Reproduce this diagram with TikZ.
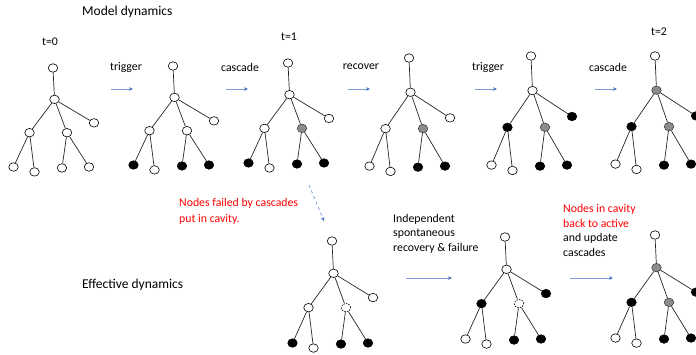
\documentclass[tikz,border=0pt]{standalone}
\usepackage{fontspec}
\setmainfont{Carlito}
\usetikzlibrary{arrows.meta,shapes.geometric}
\definecolor{arrline}{HTML}{7C9DDA}
\definecolor{arrtip}{HTML}{4472C4}
\definecolor{nodegray}{HTML}{8C8C8C}
\definecolor{redtext}{HTML}{FF0000}
\newcommand\mytree[9]{%
  \node[nd] (#1r) at (0,0) {};
  \node[nd,#2] (#1m) at (1.5,32) {};
  \node[nd,#3] (#1rl) at (41,56) {};
  \node[nd,#4] (#1lc) at (-23.5,66) {};
  \node[nd,#5] (#1rc) at (14,66) {};
  \node[nd,#6] (#1a) at (-39.5,101) {};
  \node[nd,#7] (#1b) at (-18.5,106) {};
  \node[nd,#8] (#1c) at (9,102) {};
  \node[nd,#9] (#1d) at (36,101) {};
  \draw[edge] (#1r)--(#1m) (#1m)--(#1rl) (#1m)--(#1lc) (#1m)--(#1rc)
    (#1lc)--(#1a) (#1lc)--(#1b) (#1rc)--(#1c) (#1rc)--(#1d);
}
\begin{document}
\begin{tikzpicture}[x=1pt,y=-1pt,
  nd/.style={ellipse,draw=black,fill=white,line width=0.6pt,minimum width=9.5pt,minimum height=8.5pt,inner sep=0pt},
  wnode/.style={},
  bnode/.style={fill=black},
  gnode/.style={fill=nodegray,draw=black!75},
  cnode/.style={fill=white,dash pattern=on 1.6pt off 1.1pt},
  edge/.style={draw=black!85,line width=0.7pt},
  arr/.style={draw=arrline,line width=0.8pt,-{Stealth[length=4pt,width=3.6pt,color=arrtip]}},
  title/.style={font=\fontsize{13.5}{16}\selectfont,inner sep=0pt},
  lab/.style={font=\fontsize{11.8}{14.5}\selectfont,inner sep=0pt},
]
\useasboundingbox (0,0) rectangle (696,354);
\clip (0,0) rectangle (696,354);

% titles
\node[title,anchor=west] (tmodel) at (82,12) {Model dynamics};
\node[title,anchor=west] (teff) at (82,285) {Effective dynamics};

% time labels
\node[lab] (t0) at (50,42) {t=0};
\node[lab] (t1) at (289,37) {t=1};
\node[lab] (t2) at (659,32) {t=2};

% step labels
\node[lab] (l1) at (126,67) {trigger};
\node[lab] (l2) at (240,67) {cascade};
\node[lab] (l3) at (361,67) {recover};
\node[lab] (l4) at (488,67) {trigger};
\node[lab] (l5) at (608,67) {cascade};

% top arrows
\coordinate (a1s) at (111,89); \coordinate (a1e) at (133,89);
\coordinate (a2s) at (226,89); \coordinate (a2e) at (248,89);
\coordinate (a3s) at (348,89); \coordinate (a3e) at (370,89);
\coordinate (a4s) at (475,89); \coordinate (a4e) at (497,89);
\coordinate (a5s) at (595,89); \coordinate (a5e) at (617,89);
\draw[arr] (a1s) -- (a1e);
\draw[arr] (a2s) -- (a2e);
\draw[arr] (a3s) -- (a3e);
\draw[arr] (a4s) -- (a4e);
\draw[arr] (a5s) -- (a5e);

% top trees
\begin{scope}[shift={(53,68)},yscale=0.98]
\mytree{A}{wnode}{wnode}{wnode}{wnode}{wnode}{wnode}{wnode}{wnode}
\end{scope}
\begin{scope}[shift={(173,66)},yscale=0.98]
\mytree{B}{wnode}{wnode}{wnode}{wnode}{bnode}{wnode}{bnode}{bnode}
\end{scope}
\begin{scope}[shift={(288,63)},yscale=0.99]
\mytree{C}{wnode}{wnode}{wnode}{gnode}{bnode}{wnode}{bnode}{bnode}
\end{scope}
\begin{scope}[shift={(409,58)},yscale=1.07]
\mytree{D}{wnode}{wnode}{wnode}{gnode}{wnode}{wnode}{bnode}{bnode}
\end{scope}
\begin{scope}[shift={(531,56)},yscale=1.08]
\mytree{E}{wnode}{bnode}{bnode}{gnode}{wnode}{wnode}{bnode}{bnode}
\end{scope}
\begin{scope}[shift={(655,56)},yscale=1.07]
\mytree{F}{gnode}{bnode}{bnode}{gnode}{wnode}{wnode}{bnode}{bnode}
\end{scope}

% dashed arrow
\coordinate (ds) at (309,185); \coordinate (de) at (324,221);
\draw[arr,dashed] (ds) -- (de);

% red text
\node[lab,anchor=west,align=left,text=redtext,font=\fontsize{11.8}{16}\selectfont] (red1) at (179,211) {Nodes failed by cascades\\put in cavity.};

\node[lab,anchor=west,align=left] (indep) at (393,233.5) {Independent\\spontaneous\\recovery \& failure};
\node[lab,anchor=west,align=left] (cav) at (563,230.5) {\textcolor{redtext}{Nodes in cavity}\\\textcolor{redtext}{back to active}\\and update\\cascades};

% bottom arrows
\coordinate (b1s) at (406,278); \coordinate (b1e) at (452,278);
\coordinate (b2s) at (570,278); \coordinate (b2e) at (613,278);
\draw[arr] (b1s) -- (b1e);
\draw[arr] (b2s) -- (b2e);

% bottom trees
\begin{scope}[shift={(332,241)},yscale=1.01]
\mytree{G}{wnode}{wnode}{wnode}{cnode}{bnode}{wnode}{bnode}{bnode}
\end{scope}
\begin{scope}[shift={(505,237)},yscale=1.01]
\mytree{H}{wnode}{bnode}{bnode}{cnode}{wnode}{wnode}{bnode}{bnode}
\end{scope}
\begin{scope}[shift={(655,235)},yscale=1.02]
\mytree{I}{gnode}{bnode}{bnode}{gnode}{wnode}{wnode}{bnode}{bnode}
\end{scope}
\end{tikzpicture}
\end{document}
